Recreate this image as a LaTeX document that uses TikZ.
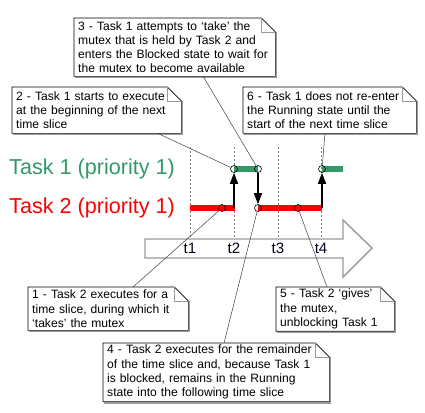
\documentclass[tikz,border=0pt]{standalone}
\usepackage{fontspec}
\setmainfont{Liberation Sans}
\usetikzlibrary{arrows.meta}
\definecolor{tgreen}{HTML}{339966}
\definecolor{tred}{HTML}{FF0000}
\definecolor{agray}{HTML}{9A9A9A}
\newcommand\notebox[6]{%
  \pgfmathsetmacro\nbtw{#4-#2-8}\pgfmathsetmacro\nbh{#5-#3}%
  \node[notetext, text width=\nbtw pt, minimum height=\nbh pt] (#1) at (#2,#3) {#6};
  \draw[noteshadow] ([shift={(1.3,14)}]#1.north east) -- ([shift={(1.3,1.3)}]#1.south east) -- ([shift={(1.3,1.3)}]#1.south west);
  \draw[noteline] (#1.north west) -- ([xshift=-14pt]#1.north east) -- ([yshift=-14pt]#1.north east) -- (#1.south east) -- (#1.south west) -- cycle;
  \draw[foldline] ([xshift=-14pt]#1.north east) -- ([xshift=-14pt,yshift=-14pt]#1.north east) -- ([yshift=-14pt]#1.north east);
}
\begin{document}
\begin{tikzpicture}[x=1pt,y=-1pt,
  notetext/.style={anchor=north west, align=left, inner xsep=4pt, inner ysep=2pt,
    font=\fontsize{12.1}{14.3}\selectfont, fill=white},
  noteline/.style={draw=black, line width=0.6pt},
  noteshadow/.style={draw=agray, line width=1.5pt},
  foldline/.style={draw=agray, line width=0.5pt},
  bigarrow/.style={draw=agray, line width=1.4pt, fill=white, line join=miter},
  slice/.style={draw=gray, dash pattern=on 2pt off 2pt, line width=0.5pt},
  tlabel/.style={font=\fontsize{15}{18}\selectfont, text=black!90!blue},
  tasklabel/.style={anchor=west, font=\fontsize{21.6}{25}\selectfont, inner sep=0pt},
  bar/.style={line width=6pt},
  event/.style={circle, draw=black, line width=0.6pt, inner sep=0pt, minimum size=7pt},
  statearrow/.style={draw=black, line width=1.2pt, -{Triangle[width=8pt,length=11pt]}},
  callout/.style={draw=black!75, line width=0.5pt}]
\useasboundingbox (0,0) rectangle (425,412);

% time axis arrow
\draw[bigarrow] (145,239) -- (343,239) -- (343,220) -- (372,248) -- (343,277) -- (343,258) -- (145,258) -- cycle;
% time slice dashed lines
\foreach \x/\n in {190/1,234/2,278/3,321/4}{
  \draw[slice] (\x,147) -- (\x,239);
  \node[tlabel] (t\n) at (\x,248) {t\n};
}

% task labels
\node[tasklabel, text=tgreen] (task1) at (9,169) {Task 1 (priority 1)};
\node[tasklabel, text=tred] (task2) at (9,208) {Task 2 (priority 1)};

% execution bars
\draw[bar, tgreen] (234,169) -- (258,169);
\draw[bar, tgreen] (322,169) -- (343,169);
\draw[bar, tred] (190,208) -- (235,208);
\draw[bar, tred] (258,208) -- (322,208);

% event markers
\node[event] (c1) at (222,208) {};
\node[event] (c2) at (234,169) {};
\node[event] (c3) at (258,169) {};
\node[event] (c4) at (258,208) {};
\node[event] (c5) at (298,208) {};
\node[event] (c6) at (322,169) {};

% state transitions
\coordinate (s2) at (234,208);
\coordinate (s6) at (322,208);
\draw[statearrow] (s2) -- (c2);
\draw[statearrow] (c3) -- (c4);
\draw[statearrow] (s6) -- (c6);

% notes
\notebox{n3}{74}{18}{275}{76}{3 - Task 1 attempts to ‘take’ the\\mutex that is held by Task 2 and\\enters the Blocked state to wait for\\the mutex to become available}
\notebox{n2}{12}{87}{181}{133}{2 - Task 1 starts to execute\\at the beginning of the next\\time slice}
\notebox{n6}{243}{87}{416}{133}{6 - Task 1 does not re-enter\\the Running state until the\\start of the next time slice}
\notebox{n1}{28}{287}{188}{330}{1 - Task 2 executes for a\\time slice, during which it\\‘takes’ the mutex}
\notebox{n5}{276}{287}{394}{330}{5 - Task 2 ‘gives’\\the mutex,\\unblocking Task 1}
\notebox{n4}{103}{343}{329}{401}{4 - Task 2 executes for the remainder\\of the time slice and, because Task 1\\is blocked, remains in the Running\\state into the following time slice}

% callout lines
\coordinate (p3) at (203,76);
\coordinate (p2) at (157,133);
\coordinate (p6) at (325,133);
\coordinate (p1) at (133,287);
\coordinate (p4) at (224,343);
\coordinate (p5) at (327,287);
\draw[callout] (p3) -- (c3);
\draw[callout] (p2) -- (c2);
\draw[callout] (p6) -- (c6);
\draw[callout] (p1) -- (c1);
\draw[callout] (p4) -- (c4);
\draw[callout] (p5) -- (c5);
\end{tikzpicture}
\end{document}
